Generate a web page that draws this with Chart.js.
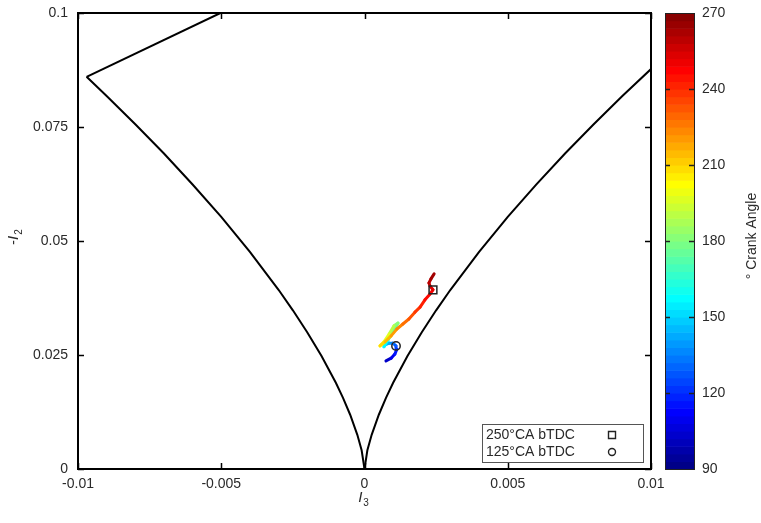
<!DOCTYPE html>
<html>
<head>
<meta charset="utf-8">
<script src="https://cdn.jsdelivr.net/npm/chart.js@4.4.1/dist/chart.umd.min.js"></script>
<style>
  html, body { margin: 0; padding: 0; background: #fff; }
  #wrap { width: 761px; height: 523px; }
</style>
</head>
<body>
<div id="wrap"><canvas id="invariantMap"></canvas></div>
<script>
// limiting lines of the invariant map, (I3, -I2)
const twoCompI3 = [-0.00503, -0.0097];
const twoCompI2 = [0.1, 0.086];
const leftI3 = [-0.0097, -0.009, -0.008, -0.007, -0.006, -0.005, -0.004, -0.003, -0.0025, -0.002, -0.0015, -0.001, -0.00075, -0.0005, -0.00025, -0.0001, 0];
const leftI2 = [0.086, 0.0818, 0.0756, 0.0692, 0.0624, 0.0553, 0.0476, 0.0393, 0.0348, 0.03, 0.0248, 0.0189, 0.0156, 0.0119, 0.0075, 0.0041, 0];
const rightI3 = [0, 0.0001, 0.00025, 0.0005, 0.00075, 0.001, 0.0015, 0.002, 0.0025, 0.003, 0.004, 0.005, 0.006, 0.007, 0.008, 0.009, 0.01];
const rightI2 = [0, 0.0041, 0.0075, 0.0119, 0.0156, 0.0189, 0.0248, 0.03, 0.0348, 0.0393, 0.0476, 0.0553, 0.0624, 0.0692, 0.0756, 0.0818, 0.0877];

// path over the cycle
const crankAngle = [100, 106, 113, 120, 125, 132, 140, 147, 152, 162, 171, 178, 186, 194, 201, 206, 212, 218, 222, 226, 230, 236, 240, 244, 248, 250, 255, 258, 262, 266];
const pathI3 = [0.00075, 0.00093, 0.00106, 0.00113, 0.0011, 0.00099, 0.00086, 0.00072, 0.00068, 0.00082, 0.00099, 0.00117, 0.00103, 0.00086, 0.00068, 0.00054, 0.00072, 0.00093, 0.00113, 0.00134, 0.00155, 0.00176, 0.00194, 0.00211, 0.00229, 0.00239, 0.00229, 0.00225, 0.00232, 0.00243];
const pathI2 = [0.0237, 0.0243, 0.0252, 0.0263, 0.027, 0.0276, 0.0276, 0.0272, 0.0268, 0.0283, 0.03, 0.032, 0.0314, 0.0296, 0.0279, 0.027, 0.0279, 0.0292, 0.0307, 0.0318, 0.0329, 0.0344, 0.0355, 0.0371, 0.0384, 0.0393, 0.0401, 0.0408, 0.0417, 0.0428];

const markerLabels = ['250°CA bTDC', '125°CA bTDC'];
const markerAngles = [250, 125];
const markerStyles = ['rect', 'circle'];

const xTicks = [-0.01, -0.005, 0, 0.005, 0.01];
const yTicks = [0, 0.025, 0.05, 0.075, 0.1];
const cbTicks = [90, 120, 150, 180, 210, 240, 270];
const cbMin = 90;
const cbMax = 270;

const FONT = 'Liberation Sans, Arial, sans-serif';
const TEXT = '#2a2a2a';

function jet(a) {
  let t = (a - cbMin) / (cbMax - cbMin);
  let c = (v) => Math.round(255 * Math.min(1, Math.max(0, 1.5 - Math.abs(4 * t - v))));
  return `rgb(${c(3)}, ${c(2)}, ${c(1)})`;
}

function toPoints(xs, ys) {
  return xs.map((x, i) => ({ x, y: ys[i] }));
}

function fmt(v) {
  return String(+v.toFixed(3));
}

// fixed box sizes, no extra room for the end labels
function fixBox(size) {
  return (s) => {
    if (s.isHorizontal()) s.height = size;
    else s.width = size;
    s.paddingTop = 0;
    s.paddingBottom = 0;
    s.paddingLeft = 0;
    s.paddingRight = 0;
  };
}

let markerSets = markerAngles.map((a, i) => {
  let k = crankAngle.indexOf(a);
  return {
    label: markerLabels[i],
    data: [{ x: pathI3[k], y: pathI2[k] }],
    showLine: false,
    pointStyle: markerStyles[i],
    pointRadius: markerStyles[i] === 'rect' ? 5.5 : 4.2,
    backgroundColor: 'rgba(0,0,0,0)',
    borderColor: '#222',
    borderWidth: 1.5,
  };
});

let boundary = (xs, ys) => ({
  data: toPoints(xs, ys),
  showLine: true,
  borderColor: '#000',
  borderWidth: 2,
  pointRadius: 0,
  tension: 0,
});

// frame, inward ticks, legend box, axis titles and the colour bar
const decorPlugin = {
  id: 'decor',
  afterDatasetsDraw(chart) {
    let { ctx, chartArea: a, scales } = chart;
    ctx.save();
    ctx.strokeStyle = '#000';
    ctx.lineWidth = 1.5;
    let t = 6;
    ctx.beginPath();
    xTicks.forEach((v) => {
      let px = Math.round(scales.x.getPixelForValue(v)) + 0.5;
      ctx.moveTo(px, a.bottom); ctx.lineTo(px, a.bottom - t);
      ctx.moveTo(px, a.top); ctx.lineTo(px, a.top + t);
    });
    yTicks.forEach((v) => {
      let py = Math.round(scales.y.getPixelForValue(v)) + 0.5;
      ctx.moveTo(a.left, py); ctx.lineTo(a.left + t, py);
      ctx.moveTo(a.right, py); ctx.lineTo(a.right - t, py);
    });
    ctx.stroke();
    ctx.lineWidth = 2;
    ctx.strokeRect(a.left, a.top, a.right - a.left, a.bottom - a.top);

    // legend
    let bw = 161, bh = 38;
    let bx = a.right - 8 - bw, by = a.bottom - 7 - bh;
    ctx.fillStyle = '#fff';
    ctx.fillRect(bx, by, bw, bh);
    ctx.strokeStyle = '#555';
    ctx.lineWidth = 1;
    ctx.strokeRect(bx + 0.5, by + 0.5, bw, bh);
    ctx.font = `14px ${FONT}`;
    ctx.textBaseline = 'middle';
    ctx.textAlign = 'left';
    markerLabels.forEach((lab, i) => {
      let ry = by + 11 + i * 17;
      ctx.fillStyle = TEXT;
      ctx.fillText(lab, bx + 4, ry);
      let mx = bx + bw - 31;
      ctx.strokeStyle = '#222';
      ctx.lineWidth = 1.4;
      ctx.beginPath();
      if (markerStyles[i] === 'rect') {
        ctx.rect(mx - 3.5, ry - 3.5, 7, 7);
      } else {
        ctx.arc(mx, ry, 3.5, 0, Math.PI * 2);
      }
      ctx.stroke();
    });
    ctx.restore();
  },
  afterDraw(chart) {
    let { ctx, chartArea: a, scales } = chart;
    let cb = scales.cb;
    ctx.save();

    // colour bar
    let x0 = cb.left + 14, w = 29;
    let step = 3;
    for (let v = cbMin; v < cbMax; v += step) {
      let yTop = cb.getPixelForValue(v + step);
      let yBot = cb.getPixelForValue(v);
      ctx.fillStyle = jet(v + step / 2);
      ctx.fillRect(x0, yTop, w, yBot - yTop + 0.6);
    }
    ctx.strokeStyle = '#222';
    ctx.lineWidth = 1;
    ctx.strokeRect(x0 + 0.5, cb.top + 0.5, w, cb.bottom - cb.top);
    ctx.lineWidth = 1.5;
    ctx.beginPath();
    cbTicks.slice(1, -1).forEach((v) => {
      let py = Math.round(cb.getPixelForValue(v)) + 0.5;
      ctx.moveTo(x0, py); ctx.lineTo(x0 + 5, py);
      ctx.moveTo(x0 + w, py); ctx.lineTo(x0 + w - 5, py);
    });
    ctx.stroke();

    ctx.fillStyle = TEXT;
    ctx.textBaseline = 'middle';
    ctx.textAlign = 'center';

    ctx.save();
    ctx.translate(752, (a.top + a.bottom) / 2 - 5);
    ctx.rotate(-Math.PI / 2);
    ctx.font = `14px ${FONT}`;
    ctx.fillText('° Crank Angle', 0, 0);
    ctx.restore();

    // axis titles with subscripts
    let subLabel = (pre, main, sub) => {
      ctx.font = `14px ${FONT}`;
      let wPre = ctx.measureText(pre).width;
      ctx.font = `italic 15px ${FONT}`;
      let wMain = ctx.measureText(main).width;
      ctx.font = `10px ${FONT}`;
      let wSub = ctx.measureText(sub).width;
      let x = -(wPre + wMain + wSub + 1) / 2;
      ctx.textAlign = 'left';
      ctx.textBaseline = 'alphabetic';
      ctx.font = `14px ${FONT}`;
      ctx.fillText(pre, x, 5);
      x += wPre;
      ctx.font = `italic 15px ${FONT}`;
      ctx.fillText(main, x, 5);
      x += wMain + 1;
      ctx.font = `10px ${FONT}`;
      ctx.fillText(sub, x, 9);
    };

    ctx.save();
    ctx.translate((a.left + a.right) / 2 - 1, 497);
    subLabel('', 'I', '3');
    ctx.restore();

    ctx.save();
    ctx.translate(13, 237);
    ctx.rotate(-Math.PI / 2);
    subLabel('-', 'I', '2');
    ctx.restore();

    ctx.restore();
  },
};

const ctx = document.getElementById('invariantMap');
new Chart(ctx, {
  type: 'scatter',
  data: {
    datasets: [
      ...markerSets,
      {
        label: 'path',
        data: toPoints(pathI3, pathI2),
        showLine: true,
        pointRadius: 0,
        borderWidth: 3,
        borderCapStyle: 'round',
        borderJoinStyle: 'round',
        tension: 0,
        segment: {
          borderColor: (c) => jet((crankAngle[c.p0DataIndex] + crankAngle[c.p1DataIndex]) / 2),
        },
      },
      boundary(twoCompI3, twoCompI2),
      boundary(leftI3, leftI2),
      boundary(rightI3, rightI2),
    ],
  },
  options: {
    responsive: true,
    maintainAspectRatio: false,
    animation: false,
    events: [],
    layout: { padding: { top: 13, left: 0, right: 0, bottom: 0 } },
    plugins: {
      legend: { display: false },
      tooltip: { enabled: false },
    },
    scales: {
      x: {
        type: 'linear',
        min: -0.01,
        max: 0.01,
        afterBuildTicks: (s) => { s.ticks = xTicks.map((v) => ({ value: v })); },
        afterFit: fixBox(54),
        grid: { display: false, drawTicks: false },
        border: { display: false },
        ticks: {
          color: TEXT,
          font: { family: FONT, size: 14 },
          padding: 7,
          maxRotation: 0,
          callback: (v) => fmt(v),
        },
      },
      y: {
        type: 'linear',
        min: 0,
        max: 0.1,
        afterBuildTicks: (s) => { s.ticks = yTicks.map((v) => ({ value: v })); },
        afterFit: fixBox(78),
        grid: { display: false, drawTicks: false },
        border: { display: false },
        ticks: {
          color: TEXT,
          font: { family: FONT, size: 14 },
          padding: 10,
          callback: (v) => fmt(v),
        },
      },
      cb: {
        type: 'linear',
        axis: 'y',
        position: 'right',
        min: cbMin,
        max: cbMax,
        afterBuildTicks: (s) => { s.ticks = cbTicks.map((v) => ({ value: v })); },
        afterFit: fixBox(110),
        grid: { display: false, drawTicks: false },
        border: { display: false },
        ticks: {
          color: TEXT,
          font: { family: FONT, size: 14 },
          padding: 51,
        },
      },
    },
  },
  plugins: [decorPlugin],
});
</script>
</body>
</html>
